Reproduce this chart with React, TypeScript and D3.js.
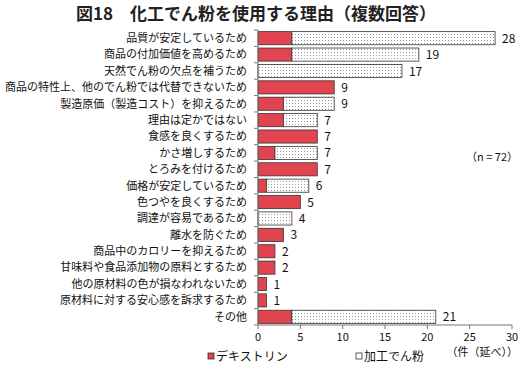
import React from "react";
import * as d3 from "d3";

const categories = [
  "品質が安定しているため",
  "商品の付加価値を高めるため",
  "天然でん粉の欠点を補うため",
  "商品の特性上、他のでん粉では代替できないため",
  "製造原価（製造コスト）を抑えるため",
  "理由は定かではない",
  "食感を良くするため",
  "かさ増しするため",
  "とろみを付けるため",
  "価格が安定しているため",
  "色つやを良くするため",
  "調達が容易であるため",
  "離水を防ぐため",
  "商品中のカロリーを抑えるため",
  "甘味料や食品添加物の原料とするため",
  "他の原材料の色が損なわれないため",
  "原材料に対する安心感を訴求するため",
  "その他",
];
const dextrin = [4, 4, 0, 9, 3, 3, 7, 2, 7, 1, 5, 0, 3, 2, 2, 1, 1, 4];
const modified = [24, 15, 17, 0, 6, 4, 0, 5, 0, 5, 0, 4, 0, 0, 0, 0, 0, 17];
const xTicks = [0, 5, 10, 15, 20, 25, 30];
const seriesNames = ["デキストリン", "加工でん粉"];

const W = 519;
const H = 367;
const left = 258;
const right = 512;
const top = 30;
const bottom = 325;
const RED = "#e2444e";
const FONT = "'Noto Sans CJK JP', 'Noto Sans', sans-serif";

export default function App() {
  const x = d3.scaleLinear().domain([0, 30]).range([left, right]);
  const y = d3.scaleBand<string>().domain(categories).range([top, bottom]).paddingInner(0.2).paddingOuter(0.1);
  const bandEdges = d3.range(categories.length + 1).map((i) => top + i * ((bottom - top) / categories.length));
  return (
    <svg width={W} height={H} style={{ position: "absolute", left: 0, top: 0, fontFamily: FONT }}>
      <defs>
        <pattern id="dots" width="3" height="3" patternUnits="userSpaceOnUse">
          <rect width="3" height="3" fill="#ffffff" />
          <rect x="1" y="1" width="1" height="1" fill="#9a9a9a" />
        </pattern>
      </defs>
      <rect width={W} height={H} fill="#ffffff" />
      <text x={256} y={20} textAnchor="middle" fontSize={17} fontWeight="bold" fill="#222">
        図18　化工でん粉を使用する理由（複数回答）
      </text>
      {categories.map((c, i) => {
        const yy = y(c)!;
        const h = y.bandwidth();
        const d = dextrin[i];
        const m = modified[i];
        const total = d + m;
        return (
          <g key={c}>
            <text x={247} y={yy + h / 2} dy="0.35em" textAnchor="end" fontSize={11} fill="#111">
              {c}
            </text>
            {d > 0 && (
              <rect x={x(0)} y={yy} width={x(d) - x(0)} height={h} fill={RED} stroke="#333" strokeWidth={0.8} />
            )}
            {m > 0 && (
              <rect x={x(d)} y={yy} width={x(d + m) - x(d)} height={h} fill="url(#dots)" stroke="#333" strokeWidth={0.8} />
            )}
            <text x={x(total) + 7} y={yy + h / 2} dy="0.38em" fontSize={12} fill="#111">
              {total}
            </text>
          </g>
        );
      })}
      <line x1={left} x2={left} y1={top} y2={bottom} stroke="#777" strokeWidth={1} />
      {bandEdges.map((e, i) => (
        <line key={i} x1={left - 4} x2={left} y1={e} y2={e} stroke="#777" strokeWidth={1} />
      ))}
      <line x1={left} x2={right} y1={bottom} y2={bottom} stroke="#777" strokeWidth={1} />
      {xTicks.map((t) => (
        <g key={t}>
          <line x1={x(t)} x2={x(t)} y1={bottom} y2={bottom + 4} stroke="#777" />
          <text x={x(t)} y={341} textAnchor="middle" fontSize={11} fill="#111">
            {t}
          </text>
        </g>
      ))}
      <text x={518} y={161} textAnchor="end" fontSize={11} fill="#111">（n = 72）</text>
      <text x={518} y={356} textAnchor="end" fontSize={11} fill="#111">（件（延べ））</text>
      <rect x={208} y={353} width={6} height={6} fill={RED} stroke="#333" strokeWidth={0.8} />
      <text x={216} y={361} fontSize={12} fill="#111">{seriesNames[0]}</text>
      <rect x={356} y={353} width={6} height={6} fill="#fff" stroke="#333" strokeWidth={0.8} />
      <text x={364} y={361} fontSize={12} fill="#111">{seriesNames[1]}</text>
    </svg>
  );
}
